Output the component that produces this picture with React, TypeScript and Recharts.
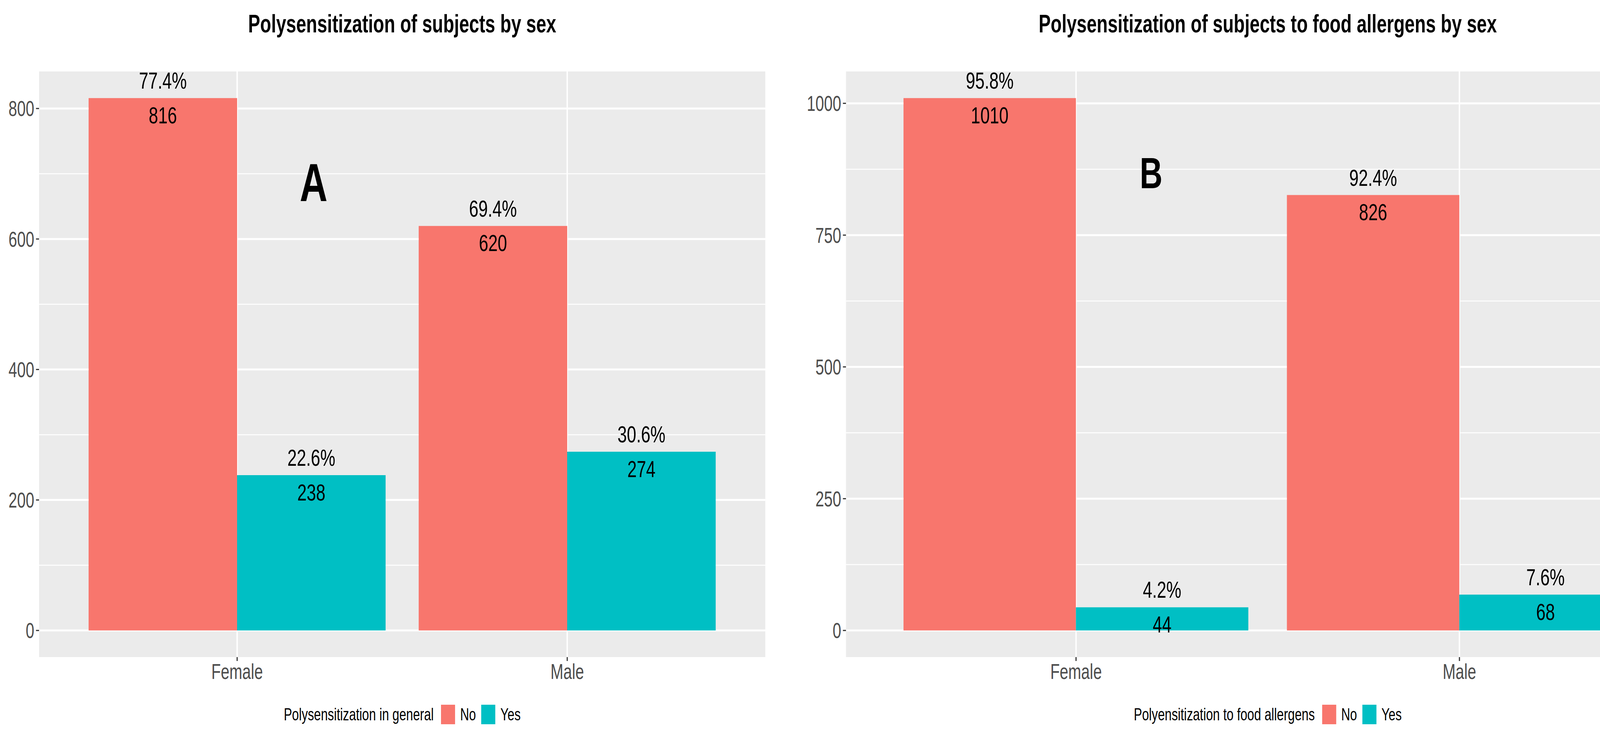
import React from 'react';
import { BarChart, Bar, XAxis, YAxis, CartesianGrid, LabelList } from 'recharts';

// categories
const sexes = ['Female', 'Male'];

// panel A - polysensitization in general
const generalNo = [816, 620];
const generalYes = [238, 274];
const generalNoPct = ['77.4%', '69.4%'];
const generalYesPct = ['22.6%', '30.6%'];
const generalTicks = [0, 200, 400, 600, 800];
const generalMinor = [100, 300, 500, 700];

// panel B - polysensitization to food allergens
const foodNo = [1010, 826];
const foodYes = [44, 68];
const foodNoPct = ['95.8%', '92.4%'];
const foodYesPct = ['4.2%', '7.6%'];
const foodTicks = [0, 250, 500, 750, 1000];
const foodMinor = [125, 375, 625, 875];

const NO_COLOR = '#F8766D';
const YES_COLOR = '#00BFC4';
const FONT = '"Liberation Sans", Arial, Helvetica, sans-serif';

// the published figure is squashed sideways, so we draw wide and squeeze
const SQUEEZE = 0.72;
const H = 1880;
const TOP = 183;
const BOTTOM = 197;
const X_AXIS_H = 100;

const buildRows = (no: number[], yes: number[], noPct: string[], yesPct: string[]) =>
  sexes.map((sex, i) => ({ sex, no: no[i], yes: yes[i], noPct: noPct[i], yesPct: yesPct[i] }));

// ggplot pads a continuous axis by 5% of the data range on each side
const expand = (max: number) => [-max * 0.05, max * 1.05];

type PanelProps = {
  x: number;
  width: number;
  yAxisWidth: number;
  rightMargin: number;
  rows: any[];
  ticks: number[];
  minor: number[];
  max: number;
  title: string;
  legendTitle: string;
  letter: string;
  letterX: number;
  letterTop: number;
  letterSize: number;
};

function Panel(p: PanelProps) {
  const plotW = p.width - p.yAxisWidth - p.rightMargin;
  // discrete axis: 0.6 units of room at each end, 1 unit per category
  const pad = (plotW * 0.1) / 2.2;
  const centre = p.yAxisWidth + plotW / 2;
  const tickStyle = { fill: '#4D4D4D', fontSize: 55, fontFamily: FONT };
  const labelStyle = { fill: '#000000', fontSize: 60, fontFamily: FONT };

  const verticalLines = (args: any) => {
    const left = args?.offset?.left ?? p.yAxisWidth;
    const w = args?.offset?.width ?? plotW;
    const band = (w - 2 * pad) / sexes.length;
    return sexes.map((_, i) => left + pad + band * (i + 0.5));
  };

  return (
    <div style={{ position: 'absolute', left: p.x, top: 0, width: p.width, height: H }}>
      <div
        style={{
          position: 'absolute',
          left: centre - 1200,
          width: 2400,
          top: 29,
          textAlign: 'center',
          fontFamily: FONT,
          fontWeight: 'bold',
          fontSize: 64,
          lineHeight: '64px',
          color: '#000',
        }}
      >
        {p.title}
      </div>

      <BarChart
        width={p.width}
        height={H}
        data={p.rows}
        margin={{ top: TOP, right: p.rightMargin, bottom: BOTTOM - X_AXIS_H, left: 0 }}
        barGap={0}
        barCategoryGap="5%"
      >
        <CartesianGrid
          fill="#EBEBEB"
          fillOpacity={1}
          stroke="#FFFFFF"
          strokeWidth={5}
          horizontalValues={p.ticks}
          verticalCoordinatesGenerator={verticalLines}
        />
        <CartesianGrid stroke="#FFFFFF" strokeWidth={2.5} horizontalValues={p.minor} vertical={false} />
        <XAxis
          dataKey="sex"
          height={X_AXIS_H}
          padding={{ left: pad, right: pad }}
          axisLine={false}
          tickSize={10}
          tickMargin={7}
          tickLine={{ stroke: '#333333', strokeWidth: 4 }}
          tick={tickStyle}
        />
        <YAxis
          type="number"
          domain={expand(p.max)}
          ticks={p.ticks}
          width={p.yAxisWidth}
          axisLine={false}
          tickSize={11}
          tickMargin={6}
          tickLine={{ stroke: '#333333', strokeWidth: 3 }}
          tick={tickStyle}
        />
        <Bar dataKey="no" fill={NO_COLOR} isAnimationActive={false}>
          <LabelList dataKey="noPct" position="top" offset={24} {...labelStyle} />
          <LabelList dataKey="no" position="insideTop" offset={22} {...labelStyle} />
        </Bar>
        <Bar dataKey="yes" fill={YES_COLOR} isAnimationActive={false}>
          <LabelList dataKey="yesPct" position="top" offset={24} {...labelStyle} />
          <LabelList dataKey="yes" position="insideTop" offset={22} {...labelStyle} />
        </Bar>
      </BarChart>

      <div
        style={{
          position: 'absolute',
          left: p.letterX - 300,
          width: 600,
          top: p.letterTop,
          textAlign: 'center',
          fontFamily: FONT,
          fontWeight: 'bold',
          fontSize: p.letterSize,
          lineHeight: `${p.letterSize}px`,
          color: '#000',
        }}
      >
        {p.letter}
      </div>

      {/* legend */}
      <div
        style={{
          position: 'absolute',
          left: centre - 1500,
          width: 3000,
          top: 1805,
          height: 50,
          display: 'flex',
          justifyContent: 'center',
          alignItems: 'center',
          fontFamily: FONT,
          fontSize: 44,
          color: '#000',
        }}
      >
        <span style={{ marginRight: 26 }}>{p.legendTitle}</span>
        <span style={{ width: 50, height: 50, background: NO_COLOR, display: 'inline-block' }} />
        <span style={{ marginLeft: 18, marginRight: 19 }}>No</span>
        <span style={{ width: 50, height: 50, background: YES_COLOR, display: 'inline-block' }} />
        <span style={{ marginLeft: 18 }}>Yes</span>
      </div>
    </div>
  );
}

export default function App() {
  const generalRows = buildRows(generalNo, generalYes, generalNoPct, generalYesPct);
  const foodRows = buildRows(foodNo, foodYes, foodNoPct, foodYesPct);

  return (
    <div style={{ position: 'fixed', left: 0, top: 0, width: 4364, height: H, overflow: 'hidden', background: '#fff' }}>
      <div
        style={{
          position: 'absolute',
          left: 0,
          top: 0,
          width: 4364 / SQUEEZE,
          height: H,
          transform: `scaleX(${SQUEEZE})`,
          transformOrigin: '0 0',
        }}
      >
        <Panel
          x={0}
          width={2800}
          yAxisWidth={139}
          rightMargin={79}
          rows={generalRows}
          ticks={generalTicks}
          minor={generalMinor}
          max={816}
          title="Polysensitization of subjects by sex"
          legendTitle="Polysensitization in general"
          letter="A"
          letterX={1115}
          letterTop={399}
          letterSize={137}
        />
        <Panel
          x={2800}
          width={3261}
          yAxisWidth={208}
          rightMargin={54}
          rows={foodRows}
          ticks={foodTicks}
          minor={foodMinor}
          max={1010}
          title="Polysensitization of subjects to food allergens by sex"
          legendTitle="Polyensitization to food allergens"
          letter="B"
          letterX={1293}
          letterTop={388}
          letterSize={112}
        />
      </div>
    </div>
  );
}
